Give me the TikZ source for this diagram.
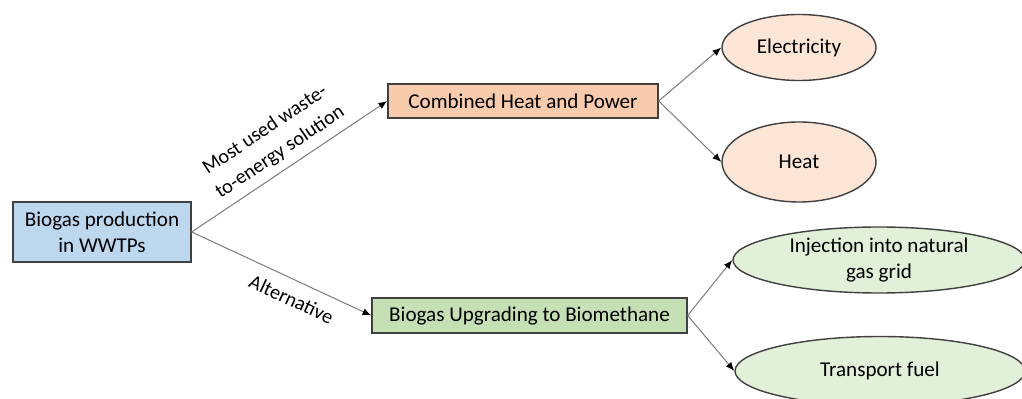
\documentclass[tikz,border=0pt]{standalone}
\usepackage{fontspec}
\setmainfont{Carlito}
\usetikzlibrary{shapes.geometric}
\usetikzlibrary{arrows.meta}
\definecolor{sourceFill}{RGB}{189,215,238}
\definecolor{chpFill}{RGB}{248,203,173}
\definecolor{chpLight}{RGB}{251,229,214}
\definecolor{upgFill}{RGB}{197,224,180}
\definecolor{upgLight}{RGB}{226,240,217}
\definecolor{lineGray}{RGB}{64,64,64}

\begin{document}
\begin{tikzpicture}[font=\fontsize{12}{15}\selectfont]

          \tikzstyle{boxNode} = [draw=lineGray,line width=0.8pt,rectangle,inner sep=2pt,align=center];
          \tikzstyle{useNode} = [draw=lineGray,line width=0.8pt,ellipse,inner sep=0pt,align=center];
          \tikzstyle{flowEdge} = [draw=gray,line width=0.6pt,-{Latex[black,length=5pt,width=4pt]}];
          \tikzstyle{flowLabel} = [font=\fontsize{11.5}{15.3}\selectfont,sloped,align=center];

          \clip (0,0) rectangle (20.44,-7.98);
          \useasboundingbox (0,0) rectangle (20.44,-7.98);

          \node[boxNode,fill=sourceFill,minimum width=3.56cm,minimum height=1.2cm] (bio) at (2.04,-4.64) {Biogas production\\in WWTPs};
          \node[boxNode,fill=chpFill,minimum width=5.4cm,minimum height=0.68cm] (chp) at (10.46,-2.02) {Combined Heat and Power};
          \node[boxNode,fill=upgFill,minimum width=6.3cm,minimum height=0.7cm] (upg) at (10.59,-6.31) {Biogas Upgrading to Biomethane};
          \node[useNode,fill=chpLight,minimum width=3.08cm,minimum height=1.32cm] (elec) at (15.98,-0.95) {Electricity};
          \node[useNode,fill=chpLight,minimum width=3.08cm,minimum height=1.6cm] (heat) at (15.98,-3.24) {Heat};
          \node[useNode,fill=upgLight,minimum width=5.84cm,minimum height=1.32cm] (grid) at (17.58,-5.2) {Injection into natural\\gas grid};
          \node[useNode,fill=upgLight,minimum width=5.8cm,minimum height=1.38cm] (fuel) at (17.6,-7.42) {Transport fuel};

          \draw[flowEdge] (bio.east) -- node[flowLabel,above=1pt,pos=0.5] {Most used waste-\\to-energy solution} (chp.west);
          \draw[flowEdge] (bio.east) -- node[flowLabel,below=3pt,pos=0.6] {Alternative} (upg.west);
          \draw[flowEdge] (chp.east) -- (elec.west);
          \draw[flowEdge] (chp.east) -- (heat.west);
          \draw[flowEdge] (upg.east) -- (grid.west);
          \draw[flowEdge] (upg.east) -- (fuel.west);
        \end{tikzpicture}
\end{document}
